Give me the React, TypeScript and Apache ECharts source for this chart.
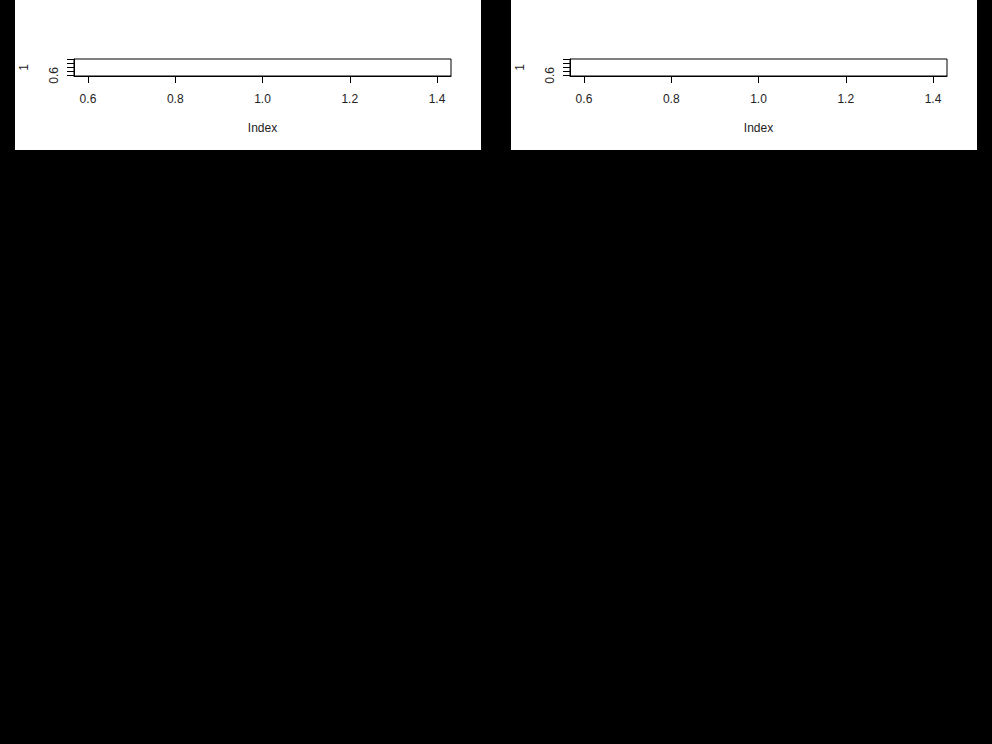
import React, { useEffect, useRef } from "react";
import * as echarts from "echarts";

const panelOffsets = [0, 496];
const tickValues = [0.6, 0.8, 1.0, 1.2, 1.4];
const yLabelValues = [0.6];
const pointX = [1];
const pointY = [1];
const xName = "Index";
const yName = "1";
const axisMin = 0.568;
const axisMax = 1.432;

export default function App() {
  const ref = useRef<HTMLDivElement>(null);
  useEffect(() => {
    if (!ref.current) return;
    const chart = echarts.init(ref.current, null, { renderer: "svg" });
    const font = "Liberation Sans, Arial, sans-serif";
    const grids: any[] = [];
    const xAxes: any[] = [];
    const yAxes: any[] = [];
    const series: any[] = [];
    const graphics: any[] = [];
    panelOffsets.forEach((off, i) => {
      graphics.push({
        type: "rect",
        z: -10,
        shape: { x: 15 + off, y: 0, width: 466, height: 150 },
        style: { fill: "#fff" },
      });
      grids.push({
        left: 74 + off,
        top: 59,
        width: 377,
        height: 17,
        show: true,
        backgroundColor: "#fff",
        borderColor: "#000",
        borderWidth: 1,
      });
      xAxes.push({
        type: "value",
        gridIndex: i,
        min: axisMin,
        max: axisMax,
        name: xName,
        nameLocation: "middle",
        nameGap: 46,
        nameTextStyle: { color: "#222", fontSize: 12, fontFamily: font },
        axisLine: { show: true, onZero: false, lineStyle: { color: "#000", width: 1 } },
        axisTick: { show: true, length: 7, inside: false, customValues: tickValues, lineStyle: { color: "#000" } },
        axisLabel: {
          show: true,
          customValues: tickValues,
          margin: 17,
          color: "#222",
          fontSize: 12,
          fontFamily: font,
          formatter: (v: number) => v.toFixed(1),
        },
        splitLine: { show: false },
      });
      yAxes.push({
        type: "value",
        gridIndex: i,
        min: axisMin,
        max: axisMax,
        name: yName,
        nameLocation: "middle",
        nameRotate: 90,
        nameGap: 44,
        nameTextStyle: { color: "#222", fontSize: 12, fontFamily: font },
        axisLine: { show: true, onZero: false, lineStyle: { color: "#000", width: 1 } },
        axisTick: { show: true, length: 7, inside: false, customValues: tickValues, lineStyle: { color: "#000" } },
        axisLabel: {
          show: true,
          customValues: yLabelValues,
          rotate: 90,
          margin: 14,
          color: "#222",
          fontSize: 12,
          fontFamily: font,
          formatter: (v: number) => v.toFixed(1),
        },
        splitLine: { show: false },
      });
      series.push({
        type: "scatter",
        xAxisIndex: i,
        yAxisIndex: i,
        symbol: "circle",
        symbolSize: 4,
        itemStyle: { color: "#fff" },
        data: pointX.map((x, k) => [x, pointY[k]]),
      });
    });
    chart.setOption({
      animation: false,
      backgroundColor: "#000",
      graphic: { elements: graphics },
      grid: grids,
      xAxis: xAxes,
      yAxis: yAxes,
      series,
    });
    return () => chart.dispose();
  }, []);
  return (
    <div
      ref={ref}
      style={{ position: "absolute", left: 0, top: 0, width: 992, height: 744, background: "#000" }}
    />
  );
}
